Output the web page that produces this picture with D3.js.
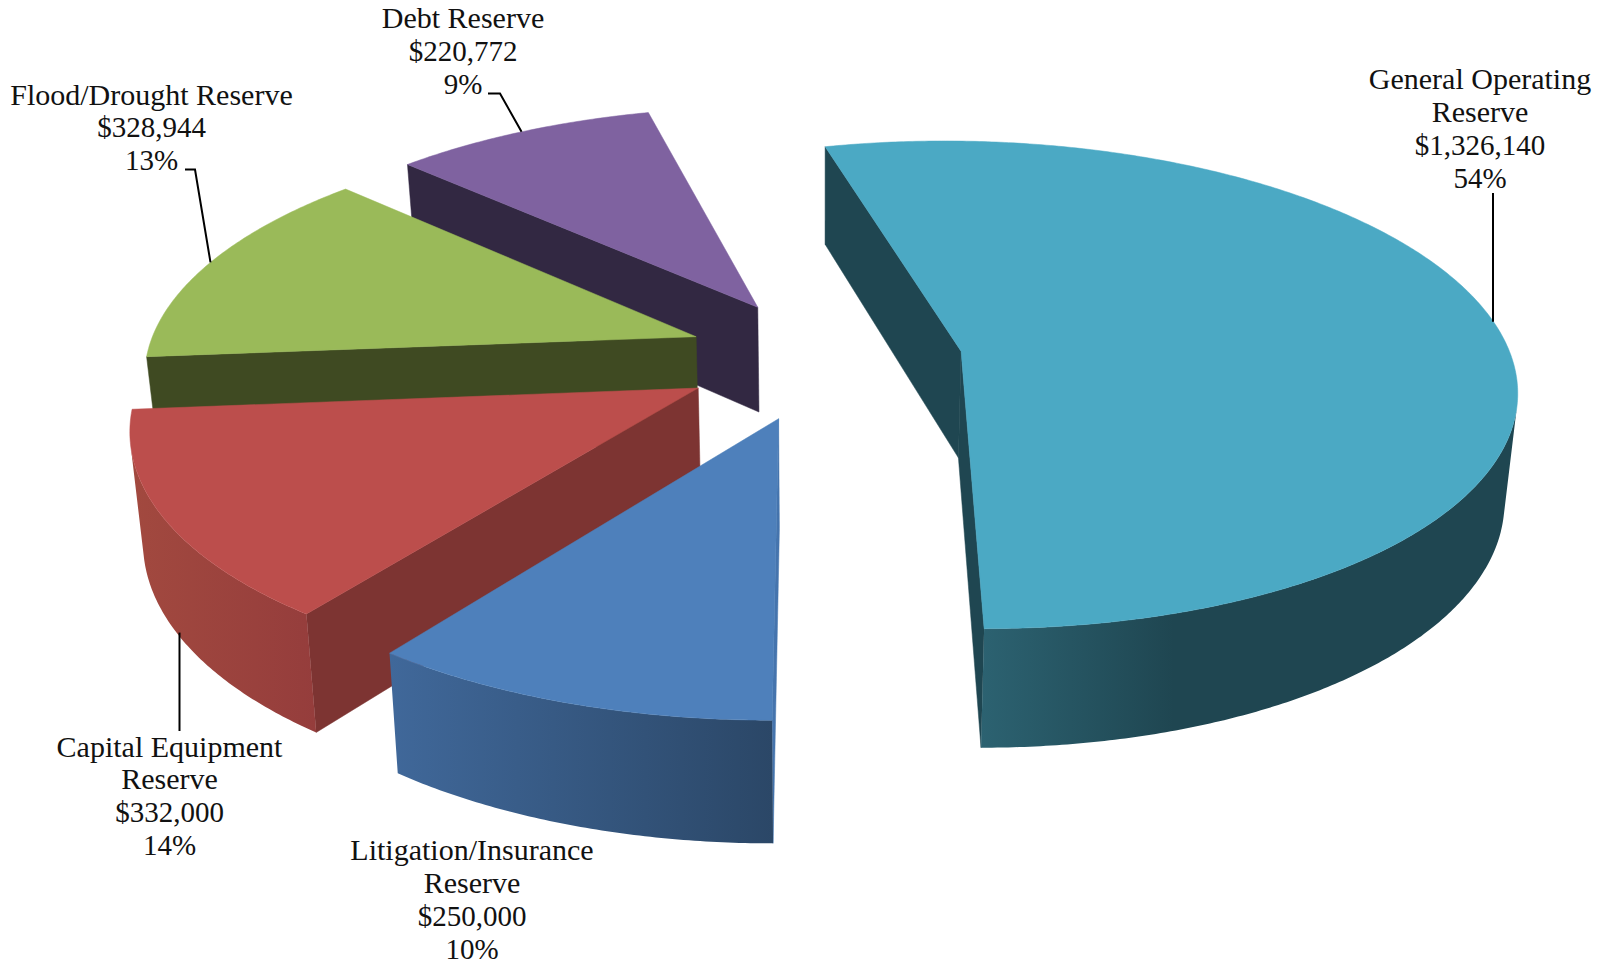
<!DOCTYPE html>
<html>
<head>
<meta charset="utf-8">
<script src="https://cdn.jsdelivr.net/npm/d3@7"></script>
<style>
  html, body { margin: 0; background: #fff; }
  svg { display: block; }
</style>
</head>
<body>
<div id="chart"></div>
<script>
// Data
const categories = ["General Operating Reserve", "Litigation/Insurance Reserve", "Capital Equipment Reserve", "Flood/Drought Reserve", "Debt Reserve"];
const labelLines = [["General Operating", "Reserve"], ["Litigation/Insurance", "Reserve"], ["Capital Equipment", "Reserve"], ["Flood/Drought Reserve"], ["Debt Reserve"]];
const values = [1326140, 250000, 332000, 328944, 220772];

// Styles, same order as the data
const topColors = ["#4BA9C4", "#4E80BB", "#BC4E4C", "#9ABA59", "#7F62A0"];
const cutColors = ["#1F4651", "#4574AD", "#7D3432", "#3F4A22", "#322842"];
const wallStops = [
  [[0, "#2C6271"], [0.36, "#1F4651"], [1, "#1F4651"]],
  [[0, "#40689A"], [1, "#2B4767"]],
  [[0, "#A2493F"], [1, "#953D3C"]],
  [[0, "#6F8A3F"], [1, "#6F8A3F"]],
  [[0, "#5E4A78"], [1, "#5E4A78"]]
];

// Layout: how far each slice is pulled out, in pie radii
const explodeX = [0.2547, -0.0752, -0.22, -0.2304, -0.1191];
const explodeY = [0, -0.272, -0.151, 0.061, 0.188];
// Label anchor (centre x, first baseline), leader start relative to it, leader elbow length
const labelX = [1480, 472, 169.5, 151.5, 463];
const labelY = [89, 860, 756.5, 104.5, 28];
const leaderDx = [13, null, 10, 33.5, 25];
const leaderDy = [104, null, -25.5, 65, 65.5];
const leaderElbow = [0, 0, 0, 10, 12];
const leaderOnBottom = [false, false, true, false, false];

const W = 1610, H = 962;
const scale = W / 1568;
const startDeg = -14.3;

const rad = d => d * Math.PI / 180;

// Perspective of the pie plane, fitted to the picture
const persp = 0.138;
const centerX = 800 * scale, horizon = -1346 * scale, spreadY = 1688 * scale, radiusX = 534 * scale;
const depthA = 28.4 * scale, depthB = 75.5 * scale, lean = 0.019;

function project(x, y, bottom) {
  const w = 1 + persp * y;
  const u = centerX + radiusX * x / w;
  const v = horizon + spreadY / w;
  if (!bottom) return [u, v];
  return [u + (centerX - u) * lean, v + depthA + depthB / w];
}

const pie = d3.pie().sort(null)
  .startAngle(rad(startDeg))
  .endAngle(rad(startDeg + 360));
const arcs = pie(values);
const total = d3.sum(values);
const money = d3.format("$,");
const pct = d3.format(".0%");

const svg = d3.select("#chart").append("svg")
  .attr("width", W)
  .attr("height", H);
const defs = svg.append("defs");
const line = d3.line();

// Positive area from d3 means the face looks at the camera
function facing(q) {
  return d3.polygonArea(q) > 0;
}

// Far slices first so nearer ones paint over them
const drawOrder = [4, 3, 2, 1, 0];
drawOrder.forEach(i => {
  const a = arcs[i];
  const ox = explodeX[i], oy = explodeY[i];
  const pt = (t, r, bottom) => project(ox + r * Math.sin(t), oy + r * Math.cos(t), bottom);

  const steps = d3.range(0, 1.0001, 1 / Math.ceil((a.endAngle - a.startAngle) / rad(0.5)))
    .map(f => a.startAngle + f * (a.endAngle - a.startAngle));
  const top = steps.map(t => pt(t, 1, false));
  const bot = steps.map(t => pt(t, 1, true));
  const apexTop = pt(0, 0, false), apexBot = pt(0, 0, true);

  const g = svg.append("g").attr("class", "slice");

  // Cut faces
  [[apexTop, top[0], bot[0], apexBot],
   [top[top.length - 1], apexTop, apexBot, bot[bot.length - 1]]].forEach(q => {
    if (!facing(q)) return;
    g.append("path")
      .attr("d", line(q) + "Z")
      .attr("fill", cutColors[i])
      .attr("stroke", cutColors[i])
      .attr("stroke-width", 0.5);
  });

  // Outer wall, only the part turned to the camera
  const vis = d3.range(steps.length - 1).filter(k => facing([top[k], top[k + 1], bot[k + 1], bot[k]]));
  if (vis.length) {
    const k0 = vis[0], k1 = vis[vis.length - 1] + 1;
    const upper = top.slice(k0, k1 + 1), lower = bot.slice(k0, k1 + 1).reverse();
    const poly = upper.concat(lower);
    const xr = d3.extent(poly, p => p[0]);
    const id = "wall" + i;
    const grad = defs.append("linearGradient")
      .attr("id", id)
      .attr("gradientUnits", "userSpaceOnUse")
      .attr("x1", xr[0]).attr("x2", xr[1])
      .attr("y1", 0).attr("y2", 0);
    wallStops[i].forEach(s => grad.append("stop").attr("offset", s[0]).attr("stop-color", s[1]));
    g.append("path")
      .attr("d", line(poly) + "Z")
      .attr("fill", `url(#${id})`);
  }

  // Top face
  g.append("path")
    .attr("d", line([apexTop].concat(top)) + "Z")
    .attr("fill", topColors[i])
    .attr("stroke", topColors[i])
    .attr("stroke-width", 0.5);
});

// Leader lines end on the slice edge at the middle of its angle
arcs.forEach((a, i) => {
  if (leaderDx[i] === null) return;
  const mid = (a.startAngle + a.endAngle) / 2;
  const tip = project(explodeX[i] + Math.sin(mid), explodeY[i] + Math.cos(mid), leaderOnBottom[i]);
  const sx = labelX[i] + leaderDx[i], sy = labelY[i] + leaderDy[i];
  const pts = [[sx, sy]];
  if (leaderElbow[i]) pts.push([sx + leaderElbow[i], sy]);
  pts.push(i === 0 || i === 2 ? [sx, tip[1]] : tip);
  svg.append("path")
    .attr("d", line(pts))
    .attr("fill", "none")
    .attr("stroke", "#000")
    .attr("stroke-width", 2);
});

// Labels: the digits in the picture run a little narrower than the names
arcs.forEach((a, i) => {
  const names = labelLines[i];
  const rows = names.concat([money(values[i]), pct(values[i] / total)]);
  svg.append("text")
    .attr("text-anchor", "middle")
    .attr("font-family", "'Liberation Serif', serif")
    .attr("fill", "#111")
    .selectAll("tspan")
    .data(rows)
    .join("tspan")
    .attr("x", labelX[i])
    .attr("y", (d, k) => labelY[i] + k * 32.9)
    .attr("font-size", (d, k) => k < names.length ? 30 : 29)
    .text(d => d);
});
</script>
</body>
</html>
